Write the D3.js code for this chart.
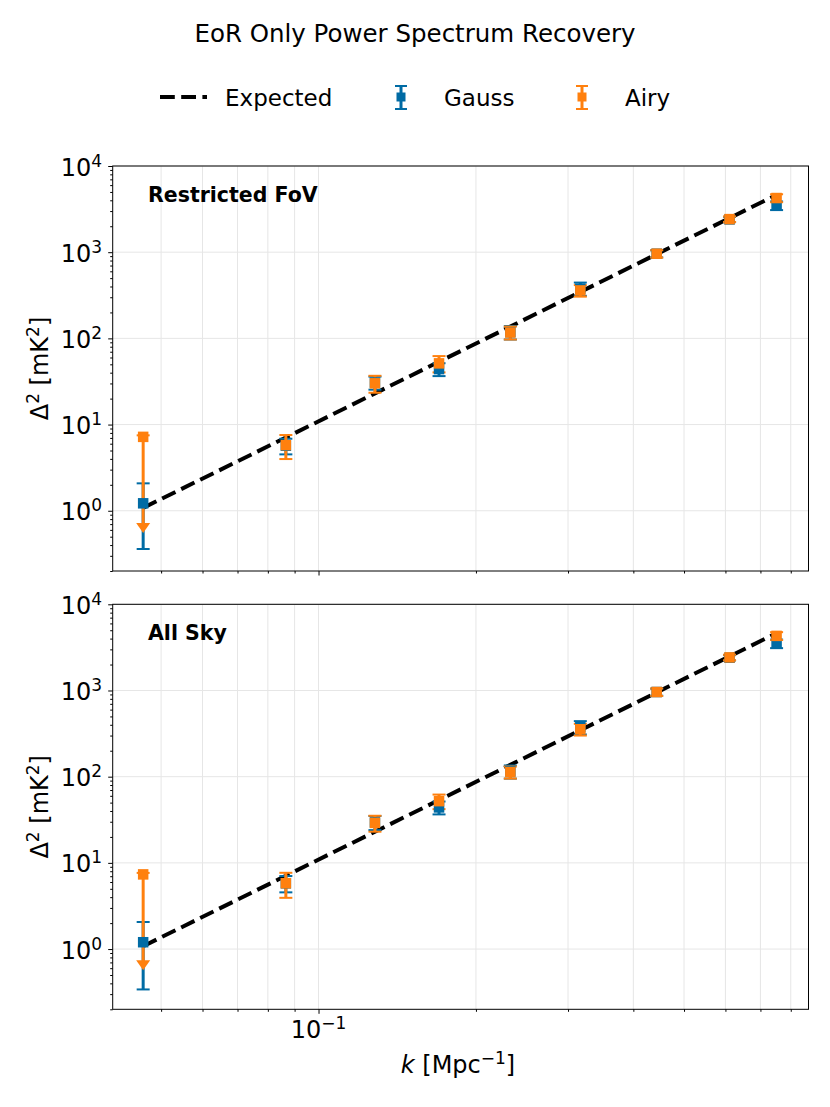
<!DOCTYPE html>
<html>
<head>
<meta charset="utf-8">
<script src="https://cdn.jsdelivr.net/npm/d3@7"></script>
<style>
  body { margin: 0; background: #fff; }
  svg text { font-family: "DejaVu Sans", sans-serif; fill: #000; }
</style>
</head>
<body>
<div id="chart"></div>
<script>
// values

const kBins = [0.0462, 0.0866, 0.1282, 0.1700, 0.2327, 0.3167, 0.4433, 0.611, 0.7516];
const expected = [1.08, 7.08, 23.0, 53.6, 137, 346, 950, 2486, 4628];

// Restricted FoV
const gaussFov = [1.22, 5.68, 30.7, 44.0, 118, 378, 960, 2400, 3480];
const gaussFovErr = [0.86, 1.17, 5.3, 7.5, 21, 66, 90, 170, 400];
const airyFov = [7.2, 5.77, 30.1, 51.3, 117, 360, 960, 2420, 4250];
const airyFovErr = [0.3, 1.79, 6.7, 11, 20, 55, 95, 180, 450];
const airyFovArrow = 0.63;   // first Airy bin is drawn as a limit

// All Sky
const gaussSky = [1.2, 5.79, 29.5, 44.0, 115, 375, 960, 2400, 3500];
const gaussSkyErr = [0.86, 1.24, 5.5, 7.5, 20, 66, 90, 170, 400];
const airySky = [7.35, 5.8, 29.1, 52.0, 113, 355, 960, 2420, 4300];
const airySkyErr = [0.3, 1.87, 6.1, 10, 18, 55, 95, 180, 450];
const airySkyArrow = 0.65;

const yTickExps = [0, 1, 2, 3, 4];
const xTickVals = [0.1];
const xTickLabels = ["\u22121"];

const blue = "#006BA4";
const orange = "#FF800E";

const width = 830, height = 1107;
const left = 112.7, right = 808.5;

const svg = d3.select("#chart")
  .append("svg")
    .attr("width", width)
    .attr("height", height);

const x = d3.scaleLog()
  .domain([0.0404, 0.865])
  .range([left, right]);

// title
svg.append("text")
  .attr("x", 415).attr("y", 42)
  .attr("text-anchor", "middle")
  .style("font-size", "24.5px")
  .text("EoR Only Power Spectrum Recovery");

// legend
const leg = svg.append("g");
leg.append("line")
  .attr("x1", 160).attr("x2", 207).attr("y1", 97).attr("y2", 97)
  .attr("stroke", "#000").attr("stroke-width", 4)
  .attr("stroke-dasharray", "14.8,6.4");
leg.append("text").attr("x", 225).attr("y", 105.5).style("font-size", "23px").text("Expected");

[[401, blue, "Gauss"], [582, orange, "Airy"]].forEach(function(d) {
  const g = leg.append("g");
  g.append("line").attr("x1", d[0]).attr("x2", d[0]).attr("y1", 86).attr("y2", 109)
    .attr("stroke", d[1]).attr("stroke-width", 3);
  [86, 109].forEach(function(cy) {
    g.append("line").attr("x1", d[0] - 6).attr("x2", d[0] + 6).attr("y1", cy).attr("y2", cy)
      .attr("stroke", d[1]).attr("stroke-width", 2);
  });
  g.append("rect").attr("x", d[0] - 4.5).attr("y", 92.5).attr("width", 9).attr("height", 9)
    .attr("fill", d[1]);
  g.append("text").attr("x", d[0] + 43).attr("y", 105.5).style("font-size", "23px").text(d[2]);
});

const panels = [
  { top: 166, bottom: 571, label: "Restricted FoV",
    gauss: gaussFov, gaussErr: gaussFovErr, airy: airyFov, airyErr: airyFovErr, arrow: airyFovArrow, xLabels: false },
  { top: 604.3, bottom: 1009.3, label: "All Sky",
    gauss: gaussSky, gaussErr: gaussSkyErr, airy: airySky, airyErr: airySkyErr, arrow: airySkyArrow, xLabels: true }
];

panels.forEach(function(p) {
  const y = d3.scaleLog()
    .domain([0.2, 1e4])
    .range([p.bottom, p.top]);

  const g = svg.append("g");

  // grid: every x tick (major and minor), y decades only
  g.append("g").selectAll("line")
    .data(x.ticks())
    .enter().append("line")
      .attr("x1", d => x(d)).attr("x2", d => x(d))
      .attr("y1", p.top).attr("y2", p.bottom)
      .attr("stroke", "#e6e6e6").attr("stroke-width", 1);
  g.append("g").selectAll("line")
    .data(yTickExps.map(e => Math.pow(10, e)))
    .enter().append("line")
      .attr("x1", left).attr("x2", right)
      .attr("y1", d => y(d)).attr("y2", d => y(d))
      .attr("stroke", "#e6e6e6").attr("stroke-width", 1);

  // axes (ticks only, labels drawn below with superscripts)
  const yMajor = yTickExps.map(e => Math.pow(10, e));
  const yMinor = y.ticks().filter(v => !yMajor.some(m => Math.abs(m - v) < 1e-9));
  g.append("g").attr("transform", `translate(${left},0)`)
    .call(d3.axisLeft(y).tickValues(yMinor).tickSize(2.5).tickFormat(""))
    .call(a => a.select(".domain").remove());
  g.append("g").attr("transform", `translate(${left},0)`)
    .call(d3.axisLeft(y).tickValues(yMajor).tickSize(4.5).tickFormat(""))
    .call(a => a.select(".domain").remove());

  const xMinor = x.ticks().filter(v => !xTickVals.some(m => Math.abs(m - v) < 1e-9));
  g.append("g").attr("transform", `translate(0,${p.bottom})`)
    .call(d3.axisBottom(x).tickValues(xMinor).tickSize(2.5).tickFormat(""))
    .call(a => a.select(".domain").remove());
  g.append("g").attr("transform", `translate(0,${p.bottom})`)
    .call(d3.axisBottom(x).tickValues(xTickVals).tickSize(4.5).tickFormat(""))
    .call(a => a.select(".domain").remove());
  g.selectAll(".tick line").attr("stroke", "#000").attr("stroke-width", 1);

  // y tick labels 10^n
  yTickExps.forEach(function(e) {
    const t = g.append("text")
      .attr("x", 102).attr("y", y(Math.pow(10, e)) + 9.5)
      .attr("text-anchor", "end")
      .style("font-size", "24px");
    t.append("tspan").text("10");
    t.append("tspan").attr("dy", -9).style("font-size", "17px").text(e);
  });

  if (p.xLabels) {
    xTickVals.forEach(function(v, i) {
      const t = g.append("text")
        .attr("x", x(v)).attr("y", p.bottom + 29)
        .attr("text-anchor", "middle")
        .style("font-size", "24px");
      t.append("tspan").text("10");
      t.append("tspan").attr("dy", -9).style("font-size", "17px").text(xTickLabels[i]);
    });
  }

  // y axis label
  const yl = g.append("text")
    .attr("transform", `translate(48,${(p.top + p.bottom) / 2}) rotate(-90)`)
    .attr("text-anchor", "middle")
    .style("font-size", "24px");
  yl.append("tspan").text("\u0394");
  yl.append("tspan").attr("dy", -9).style("font-size", "17px").text("2");
  yl.append("tspan").attr("dy", 9).text(" [mK");
  yl.append("tspan").attr("dy", -9).style("font-size", "17px").text("2");
  yl.append("tspan").attr("dy", 9).text("]");

  // panel label
  g.append("text")
    .attr("x", 148).attr("y", p.top + 36)
    .style("font-size", "20.5px").style("font-weight", "bold")
    .text(p.label);

  // expected power law
  g.append("path")
    .datum(kBins.map((k, i) => [k, expected[i]]))
    .attr("d", d3.line()
      .x(d => x(d[0]))
      .y(d => y(d[1])))
    .attr("fill", "none")
    .attr("stroke", "#000")
    .attr("stroke-width", 4)
    .attr("stroke-dasharray", "14.8,6.4");

  // error bars sit below all markers
  function bars(vals, errs, color, arrow) {
    const eg = g.append("g");
    vals.forEach(function(v, i) {
      const cx = x(kBins[i]);
      const hi = y(v + errs[i]);
      const lo = (arrow != null && i === 0) ? y(arrow) : y(v - errs[i]);
      eg.append("line").attr("x1", cx).attr("x2", cx).attr("y1", hi).attr("y2", lo)
        .attr("stroke", color).attr("stroke-width", 3);
      eg.append("line").attr("x1", cx - 6.5).attr("x2", cx + 6.5).attr("y1", hi).attr("y2", hi)
        .attr("stroke", color).attr("stroke-width", 2);
      if (arrow != null && i === 0) {
        eg.append("path")
          .attr("d", `M${cx - 7},${lo - 5}L${cx + 7},${lo - 5}L${cx},${lo + 5}Z`)
          .attr("fill", color);
      } else {
        eg.append("line").attr("x1", cx - 6.5).attr("x2", cx + 6.5).attr("y1", lo).attr("y2", lo)
          .attr("stroke", color).attr("stroke-width", 2);
      }
    });
  }
  function markers(vals, color) {
    g.append("g").selectAll("rect")
      .data(vals)
      .enter().append("rect")
        .attr("x", (d, i) => x(kBins[i]) - 5.25)
        .attr("y", d => y(d) - 5.25)
        .attr("width", 10.5).attr("height", 10.5)
        .attr("fill", color);
  }
  bars(p.gauss, p.gaussErr, blue, null);
  bars(p.airy, p.airyErr, orange, p.arrow);
  markers(p.gauss, blue);
  markers(p.airy, orange);

  // frame
  g.append("rect")
    .attr("x", left).attr("y", p.top)
    .attr("width", right - left).attr("height", p.bottom - p.top)
    .attr("fill", "none").attr("stroke", "#000").attr("stroke-width", 1);
});

// x axis label
const xl = svg.append("text")
  .attr("x", 458).attr("y", 1073)
  .attr("text-anchor", "middle")
  .style("font-size", "24px");
xl.append("tspan").style("font-style", "italic").text("k");
xl.append("tspan").text(" [Mpc");
xl.append("tspan").attr("dy", -9).style("font-size", "17px").text("\u22121");
xl.append("tspan").attr("dy", 9).text("]");
</script>
</body>
</html>
